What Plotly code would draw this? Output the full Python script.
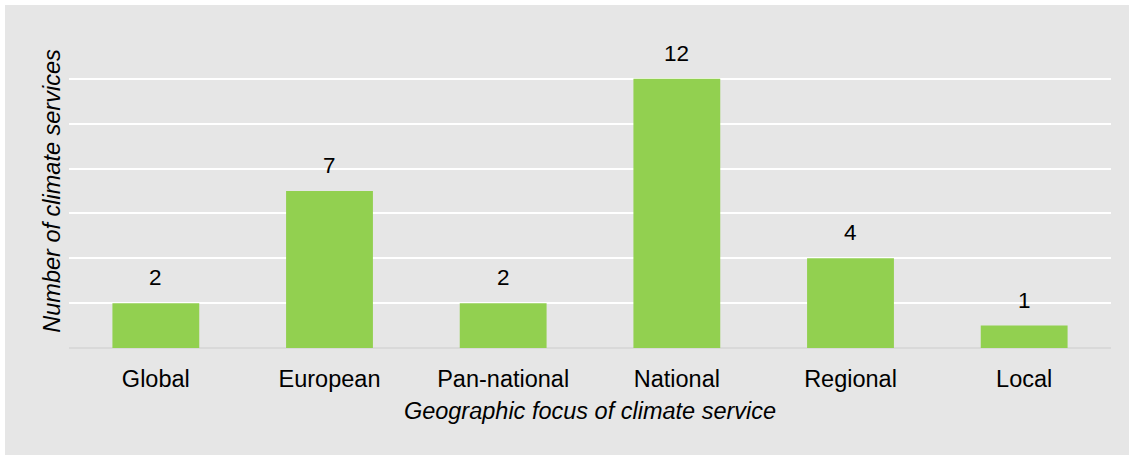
import plotly.graph_objects as go

# Geographic focus categories and number of climate services in each
categories = ["Global", "European", "Pan-national", "National", "Regional", "Local"]
counts = [2, 7, 2, 12, 4, 1]

FONT = "Liberation Sans, Arial, sans-serif"
PANEL = "#e6e6e6"
BAR = "#92d050"

W, H = 1129, 455
ML, MR, MT, MB = 69, 18, 34, 107
pw = W - ML - MR
ph = H - MT - MB

def px_to_paper_x(px):
    return (px - ML) / pw

def px_to_paper_y(py):
    return (H - MB - py) / ph

fig = go.Figure(
    go.Bar(
        x=categories,
        y=counts,
        marker=dict(color=BAR, line=dict(width=0)),
        width=0.5,
        hoverinfo="x+y",
    )
)

# value labels above each bar
for c, v in zip(categories, counts):
    fig.add_annotation(
        x=c, y=v, text=str(v), showarrow=False,
        yanchor="bottom", yshift=11,
        font=dict(family=FONT, size=22.5, color="#000000"),
    )

# grey panel behind the whole chart, leaving a thin white edge top and left
fig.add_shape(
    type="rect", xref="paper", yref="paper", layer="below",
    x0=px_to_paper_x(5), x1=px_to_paper_x(W + 5),
    y0=px_to_paper_y(H + 5), y1=px_to_paper_y(5),
    fillcolor=PANEL, line=dict(width=0),
)

fig.update_layout(
    width=W, height=H,
    margin=dict(l=ML, r=MR, t=MT, b=MB),
    paper_bgcolor="#ffffff",
    plot_bgcolor=PANEL,
    showlegend=False,
    bargap=0.5,
    font=dict(family=FONT, size=23.5, color="#000000"),
    xaxis=dict(
        showgrid=False, showline=False, ticks="",
        ticklabelstandoff=14,
        tickfont=dict(family=FONT, size=23.5, color="#000000"),
        title=dict(
            text="<i>Geographic focus of climate service</i>",
            font=dict(family=FONT, size=23.5, color="#000000"),
            standoff=12,
        ),
    ),
    yaxis=dict(
        range=[0, 14], dtick=2, showticklabels=False, ticks="",
        showgrid=True, gridcolor="#ffffff", gridwidth=2,
        zeroline=True, zerolinecolor="#d9d9d9", zerolinewidth=2,
        title=dict(
            text="<i>Number of climate services</i>",
            font=dict(family=FONT, size=23.5, color="#000000"),
            standoff=0,
        ),
    ),
)

fig.write_html("out.html")
